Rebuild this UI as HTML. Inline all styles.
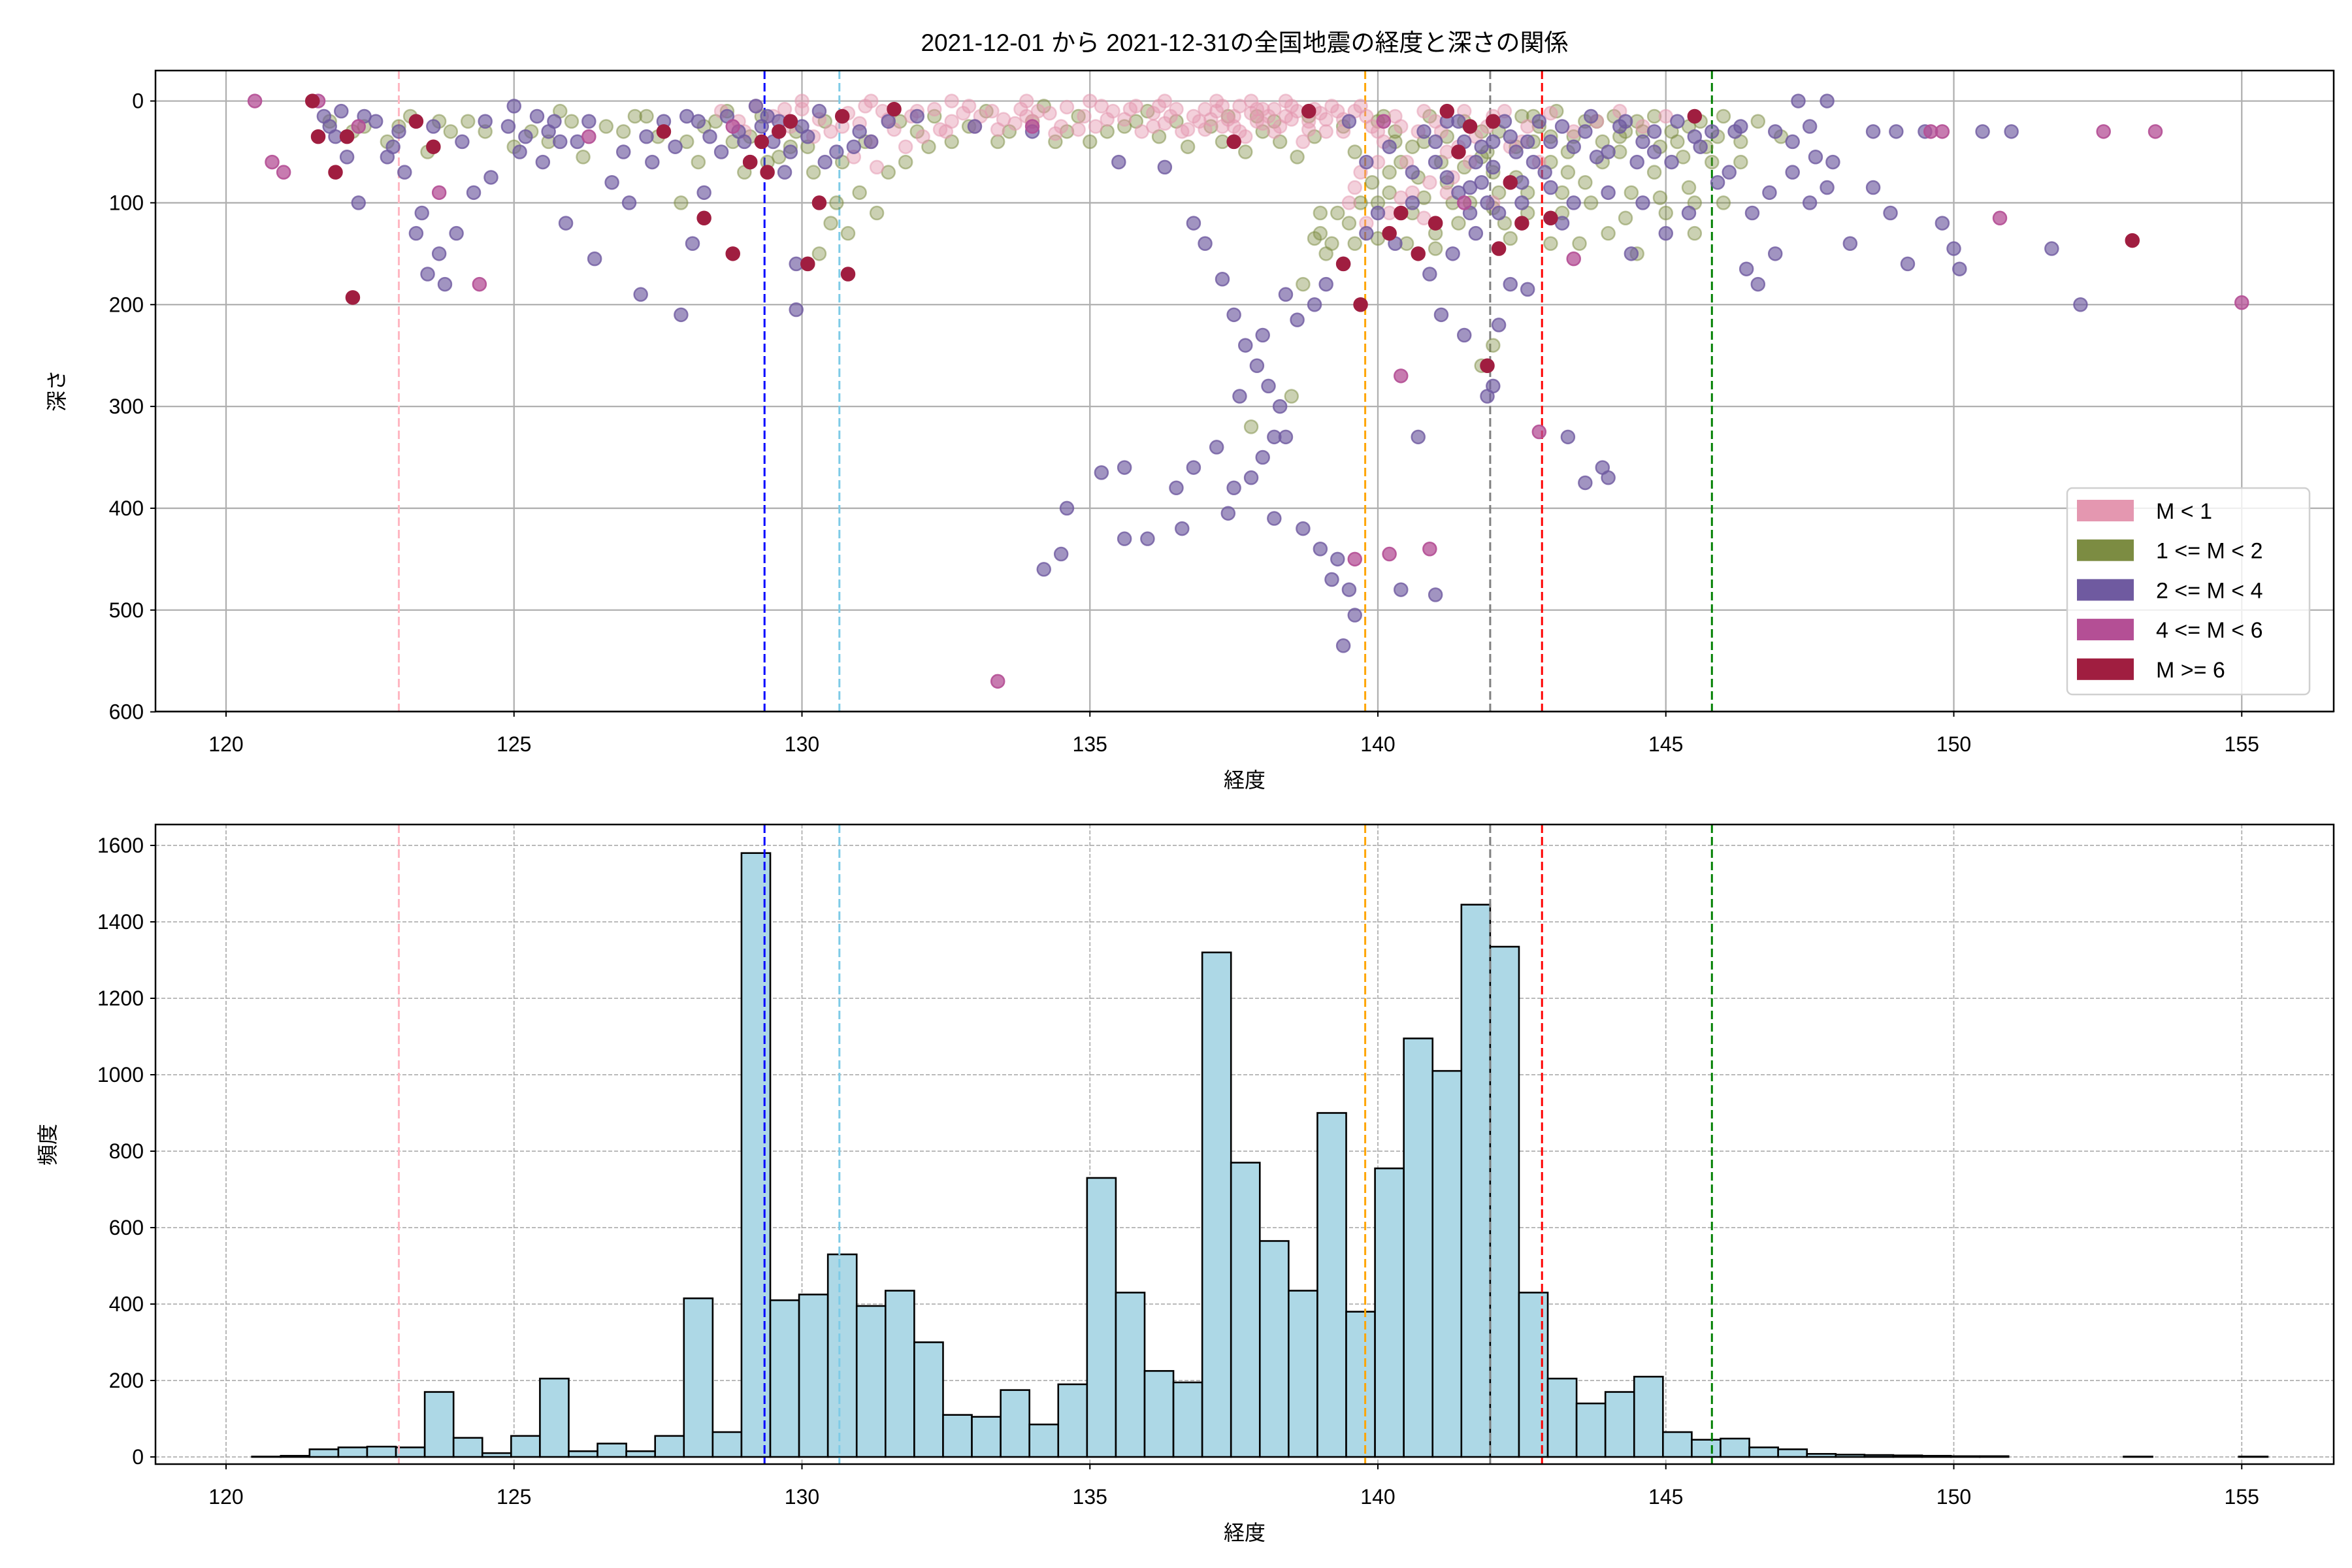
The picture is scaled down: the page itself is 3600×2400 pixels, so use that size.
<!DOCTYPE html>
<html><head><meta charset="utf-8">
<style>
html,body{margin:0;padding:0;background:#fff;}
svg{display:block;font-family:"Liberation Sans","Noto Sans CJK JP",sans-serif;}
</style></head>
<body>
<svg id="chart" width="3600" height="2400" viewBox="0 0 3600 2400" xmlns="http://www.w3.org/2000/svg">
<rect x="0" y="0" width="3600" height="2400" fill="#fff"/>
<text x="1905" y="78" font-size="37" text-anchor="middle">2021-12-01 から 2021-12-31の全国地震の経度と深さの関係</text>
<g id="topPanel"></g>
<g id="botPanel"></g>
</svg>
<script>
const pinkPts=[[128.6,10],[128.9,20],[129.2,5],[129.5,15],[129.8,25],[130.0,8],[130.3,18],[130.5,30],[130.8,12],[131.0,22],[131.2,40],[131.4,10],[131.6,28],[131.9,15],[132.1,35],[132.3,8],[132.6,20],[132.8,12],[133.0,25],[133.3,10],[133.5,18],[133.8,8],[134.0,20],[134.3,12],[134.6,6],[134.9,15],[135.1,25],[135.4,10],[135.6,18],[135.9,30],[136.1,12],[136.3,22],[136.5,8],[136.8,15],[137.0,28],[137.2,10],[137.4,18],[137.6,5],[137.8,12],[138.0,22],[138.2,8],[138.4,15],[138.6,10],[138.8,20],[139.0,12],[139.2,5],[139.4,18],[139.6,10],[139.9,25],[140.1,40],[140.3,15],[140.5,60],[140.7,30],[141.0,20],[141.2,50],[141.5,10],[141.7,35],[142.0,15],[142.3,45],[142.6,25],[143.0,12],[143.4,30],[143.8,20],[144.2,10],[144.6,25],[145.0,15],[137.3,5],[137.5,15],[137.9,8],[138.1,15],[138.3,25],[138.5,5],[136.9,20],[139.1,30],[139.3,10],[140.9,80],[139.7,70],[139.5,100],[140.2,110],[131.8,45],[130.9,55],[131.3,65],[138.7,40],[137.7,35],[135.2,5],[134.5,25],[133.1,15],[132.4,28],[140.6,90],[142.8,60],[141.3,75],[136.6,30],[137.1,18],[138.9,8],[139.8,15],[133.7,22],[135.7,8],[136.2,5]];
const pinkExtra=[[129.0,30],[129.7,8],[130.2,35],[130.7,25],[131.1,5],[131.5,18],[132.0,10],[132.5,30],[132.9,5],[133.4,28],[133.9,15],[134.4,32],[134.8,28],[135.3,18],[135.8,5],[136.4,15],[136.7,28],[137.0,8],[137.3,25],[137.6,30],[137.9,20],[138.2,30],[138.5,18],[138.8,28],[139.1,18],[139.4,30],[139.7,5],[140.0,30],[140.4,25],[140.8,10],[141.1,30],[141.4,45],[141.9,25],[142.2,10],[142.5,40],[139.6,85],[140.0,60],[140.4,95],[140.8,115],[141.2,90],[141.6,60],[142.0,100],[139.8,120],[137.2,0],[137.8,0],[138.4,0],[136.3,0],[135.0,0],[133.9,0],[132.6,0],[131.2,0],[130.0,0],[138.0,8],[137.5,25],[136.1,25],[134.1,10]];
const greenPts=[[122.4,25],[122.8,40],[123.2,15],[123.5,50],[123.9,30],[124.2,20],[125.0,45],[125.3,30],[125.8,10],[126.2,55],[126.6,25],[127.1,15],[127.5,35],[127.9,100],[128.2,60],[128.5,20],[128.8,40],[129.0,70],[129.3,15],[129.6,55],[129.9,30],[130.1,45],[130.4,20],[130.6,100],[130.8,130],[130.3,150],[130.1,160],[130.5,120],[131.0,90],[131.3,110],[131.5,70],[131.8,60],[132.0,30],[132.3,15],[132.6,40],[132.9,25],[133.2,10],[133.6,30],[134.0,20],[134.4,40],[134.8,15],[135.3,30],[135.8,20],[136.2,35],[136.7,45],[137.1,25],[137.4,15],[137.7,50],[138.0,30],[138.3,40],[138.6,55],[138.9,35],[139.0,130],[139.2,140],[139.5,120],[139.7,100],[139.9,80],[140.0,135],[140.2,90],[140.4,60],[140.6,110],[140.8,40],[141.0,130],[141.2,80],[141.4,50],[141.6,100],[141.8,30],[142.0,70],[142.2,120],[142.4,45],[142.6,90],[142.8,25],[143.0,60],[143.2,110],[143.4,35],[143.6,80],[143.8,20],[144.0,130],[144.2,50],[144.4,90],[144.6,30],[144.8,70],[145.0,110],[145.2,40],[145.4,85],[145.6,20],[145.8,60],[146.0,100],[146.3,40],[146.6,20],[147.0,35],[139.1,150],[138.7,180],[142.0,240],[141.8,260],[137.8,320],[140.5,140],[143.5,140],[144.5,150],[138.5,290],[145.5,130],[141.5,20],[142.5,15],[143.1,10],[144.1,15],[140.1,15],[136.0,10],[134.2,5],[141.1,60],[141.3,100],[141.9,50],[142.1,90],[142.7,40],[143.3,70],[143.9,40],[144.3,30],[144.9,45],[145.3,55],[145.9,35],[140.3,40],[139.6,50],[140.7,75]];
const greenExtra=[[140.0,20],[140.3,30],[140.6,45],[140.9,15],[141.2,35],[141.5,65],[141.8,55],[142.1,30],[142.4,75],[142.7,15],[143.0,35],[143.3,50],[143.6,20],[143.9,60],[144.2,35],[144.5,20],[144.8,15],[145.1,30],[145.4,25],[145.7,45],[146.0,15],[146.3,60],[140.2,70],[140.8,95],[141.4,120],[142.0,105],[142.6,110],[143.2,90],[143.7,100],[144.3,115],[144.9,95],[145.5,100],[139.3,110],[139.6,140],[140.0,100],[139.0,110],[138.9,135],[141.0,145],[142.3,135],[143.0,140],[121.8,20],[122.2,30],[123.0,25],[123.7,20],[124.5,30],[125.6,40],[126.0,20],[126.9,30],[127.3,15],[128.0,40],[128.3,25],[128.7,10],[129.1,35],[129.4,60],[129.8,45],[130.2,70],[130.7,60],[131.1,40],[131.7,20],[132.2,45],[133.4,40],[134.6,30],[135.0,40],[135.6,25],[136.5,20],[137.3,40],[137.9,15],[138.2,20],[138.8,15],[139.4,25]];
const purplePts=[[121.7,15],[121.9,35],[122.0,10],[122.1,55],[122.3,100],[122.6,20],[122.9,45],[123.1,70],[123.3,130],[123.4,110],[123.5,170],[123.7,150],[123.8,180],[124.0,130],[124.3,90],[124.6,75],[125.0,5],[125.2,35],[125.5,60],[125.7,20],[125.9,120],[126.1,40],[126.4,155],[126.7,80],[127.0,100],[127.2,190],[127.4,60],[127.6,20],[127.9,210],[128.1,140],[128.3,90],[128.6,50],[128.9,30],[129.1,60],[129.4,15],[129.5,40],[129.7,70],[129.9,160],[129.9,205],[130.3,10],[130.6,50],[131.0,30],[131.5,20],[132.0,15],[133.0,25],[134.0,30],[135.5,60],[136.3,65],[136.8,120],[137.0,140],[137.3,175],[137.5,210],[137.7,240],[137.9,260],[138.1,280],[138.3,300],[138.2,330],[138.0,350],[137.8,370],[137.5,380],[137.2,340],[136.8,360],[136.5,380],[136.0,430],[135.6,360],[135.2,365],[135.6,430],[134.6,400],[134.2,460],[134.5,445],[136.6,420],[137.4,405],[138.2,410],[138.7,420],[139.0,440],[139.3,450],[139.5,480],[139.6,505],[139.4,535],[139.2,470],[138.9,200],[138.4,190],[139.1,180],[139.4,160],[139.8,130],[140.0,110],[140.3,140],[140.6,100],[140.9,170],[141.1,210],[141.3,150],[141.5,230],[141.7,130],[142.0,280],[142.1,220],[142.3,180],[142.5,100],[142.7,60],[143.0,40],[143.2,120],[143.6,30],[144.0,370],[143.9,360],[144.0,90],[144.4,150],[144.8,50],[145.0,130],[145.4,110],[145.8,30],[146.1,70],[146.4,165],[146.6,180],[146.9,150],[147.2,40],[147.5,100],[147.9,60],[148.2,140],[148.6,85],[148.9,110],[149.2,160],[149.5,30],[149.8,120],[150.0,145],[150.1,165],[150.5,30],[151.0,30],[151.7,145],[152.2,200],[141.0,60],[141.5,40],[142.2,20],[141.8,80],[140.8,30],[144.2,25],[144.6,40],[145.2,20],[143.4,45],[142.9,70],[140.4,480],[140.7,330],[141.0,485],[143.3,330],[143.6,375],[141.9,290],[142.6,185],[148.6,30],[149.0,30],[147.3,0],[147.8,0],[141.4,90],[141.6,110],[141.7,60],[141.9,100],[124.5,20],[123.0,30],[126.9,50],[128.0,15],[129.2,5],[130.0,25],[131.2,40],[128.4,35],[125.4,15],[142.4,50],[142.0,40],[141.2,20],[143.8,55],[144.5,60],[145.6,45],[146.3,25],[146.8,90],[147.6,55],[138.6,215],[138.0,230],[137.6,290],[138.4,330]];
const purpleExtra=[[141.0,40],[141.2,75],[141.4,20],[141.6,85],[141.8,45],[142.0,65],[142.1,110],[142.3,35],[142.5,80],[142.6,40],[142.8,20],[143.0,85],[143.2,25],[143.4,100],[143.7,15],[144.0,50],[144.3,20],[144.6,100],[144.8,30],[145.1,60],[145.5,35],[145.9,80],[146.2,30],[146.5,110],[146.9,30],[147.2,70],[147.5,25],[147.8,85],[140.6,70],[140.2,45],[139.8,60],[139.5,20],[129.0,40],[129.3,25],[129.6,20],[129.8,50],[130.1,35],[130.4,60],[130.9,45],[128.7,15],[128.2,20],[127.8,45],[127.3,35],[126.3,20],[125.8,40],[124.9,25],[124.1,40],[123.6,25],[122.8,55],[122.4,15],[121.8,25],[125.1,50],[125.6,30]];
const magentaPts=[[120.5,0],[120.8,60],[121.0,70],[122.3,25],[123.7,90],[124.4,180],[126.3,35],[128.8,25],[133.4,570],[139.6,450],[140.2,445],[140.9,440],[140.4,270],[142.8,325],[143.4,155],[149.6,30],[149.8,30],[150.8,115],[152.6,30],[153.5,30],[155.0,198],[141.5,100],[140.1,20],[134.0,25],[121.6,0]];
const redPts=[[121.5,0],[121.6,35],[121.9,70],[122.1,35],[122.2,193],[123.3,20],[123.6,45],[127.6,30],[128.3,115],[128.8,150],[129.1,60],[129.4,70],[130.1,160],[130.3,100],[130.8,170],[131.6,8],[137.5,40],[138.8,10],[139.4,160],[139.7,200],[140.2,130],[141.0,120],[141.2,10],[141.9,260],[142.1,145],[142.5,120],[143.0,115],[145.5,15],[153.1,137],[129.6,30],[130.7,15],[141.6,25],[140.4,110],[142.3,80],[129.3,40],[129.8,20],[141.4,50],[142.0,20],[140.7,150]];
const histStart=120.45;
const histWidth=0.5;
const histCounts=[1,3,20,25,27,25,170,50,10,55,205,15,35,15,55,415,65,1580,410,425,530,395,435,300,110,105,175,85,190,730,430,225,195,1320,770,565,435,900,380,755,1095,1010,1445,1335,430,205,140,170,210,65,45,48,25,20,8,6,5,4,3,2,2,0,0,0,0,1,0,0,0,1];
const refLons=[123.0,129.35,130.65,139.78,141.95,142.85,145.8];
const refColors=["#ffb6c1","#0000ff","#7ecbe6","#ffa500","#808080","#ff0000","#008000"];
const xTicks=[120,125,130,135,140,145,150,155];
const depthTicks=[0,100,200,300,400,500,600];
const countTicks=[0,200,400,600,800,1000,1200,1400,1600];
const legendLabels=["M < 1","1 <= M < 2","2 <= M < 4","4 <= M < 6","M >= 6"];

const NS="http://www.w3.org/2000/svg";
const L=238,R=3572,T1=108,B1=1089,T2=1262,B2=2241;
function xs(v){return 346+(v-120)*88.15;}
function yd(v){return 154.6+v*1.5583;}
function yc(v){return 2230-v*0.585;}
function mk(tag,attrs,parent){const e=document.createElementNS(NS,tag);for(const k in attrs)e.setAttribute(k,attrs[k]);parent.appendChild(e);return e;}
const gTop=document.getElementById('topPanel'),gBot=document.getElementById('botPanel');

xTicks.forEach(t=>{const l=mk('line',{x1:xs(t),x2:xs(t),y1:T1,y2:B1,stroke:'#b0b0b0','stroke-width':2.3},gTop);

});
depthTicks.forEach(t=>{const l=mk('line',{x1:L,x2:R,y1:yd(t),y2:yd(t),stroke:'#b0b0b0','stroke-width':2.3},gTop);

});
function refLines(g,y1,y2){refLons.forEach((v,i)=>{const l=mk('line',{x1:xs(v),x2:xs(v),y1:y1,y2:y2,stroke:refColors[i],'stroke-width':3,'stroke-dasharray':'13 6'},g);

});}
refLines(gTop,T1,B1);
const series=[[greenPts.concat(greenExtra),'#7c8c42',0.4,0.5,'green-points'],[pinkPts.concat(pinkExtra),'#e497b0',0.45,0.5,'pink-points'],[purplePts.concat(purpleExtra),'#6f5aa0',0.65,0.8,'purple-points'],[magentaPts,'#b44f95',0.75,0.9,'magenta-points'],[redPts,'#a01e40',1,1,'red-points']];
series.forEach(s=>{const g=mk('g',{},gTop);


s[0].forEach(p=>{const c=mk('circle',{cx:xs(p[0]),cy:yd(p[1]),r:10,fill:s[1],'fill-opacity':s[2],stroke:s[1],'stroke-opacity':s[3],'stroke-width':2.5},g);

});});
const f1=mk('rect',{x:L,y:T1,width:R-L,height:B1-T1,fill:'none',stroke:'#000','stroke-width':2.5},gTop);


function ticksX(g,yb,y){xTicks.forEach(t=>{mk('line',{x1:xs(t),x2:xs(t),y1:yb,y2:yb+8,stroke:'#000','stroke-width':2},g);
const tx=mk('text',{x:xs(t),y:y,'font-size':32,'text-anchor':'middle'},g);tx.textContent=t;

});}
ticksX(gTop,B1,1150);
depthTicks.forEach(t=>{mk('line',{x1:L-8,x2:L,y1:yd(t),y2:yd(t),stroke:'#000','stroke-width':2},gTop);
const tx=mk('text',{x:L-18,y:yd(t)+11,'font-size':32,'text-anchor':'end'},gTop);tx.textContent=t;

});
let t1=mk('text',{x:1905,y:1205,'font-size':32,'text-anchor':'middle'},gTop);t1.textContent='経度';


let t2=mk('text',{x:98,y:598,'font-size':32,'text-anchor':'middle',transform:'rotate(-90 98 598)'},gTop);t2.textContent='深さ';


const lg=mk('g',{},gTop);


mk('rect',{x:3164,y:747,width:371,height:316,rx:8,fill:'#fff','fill-opacity':0.8,stroke:'#d0d0d0','stroke-width':2.5},lg);
const legCols=['#e497b0','#7c8c42','#6f5aa0','#b44f95','#a01e40'];
legendLabels.forEach((lab,i)=>{const y=765+i*60.7;
const r=mk('rect',{x:3179,y:y,width:87,height:33,fill:legCols[i]},lg);


const tx=mk('text',{x:3300,y:y+29,'font-size':34},lg);tx.textContent=lab;

});

xTicks.forEach(t=>{mk('line',{x1:xs(t),x2:xs(t),y1:T2,y2:B2,stroke:'#b0b0b0','stroke-width':1.8,'stroke-dasharray':'6 3'},gBot);});
countTicks.forEach(t=>{mk('line',{x1:L,x2:R,y1:yc(t),y2:yc(t),stroke:'#b0b0b0','stroke-width':1.8,'stroke-dasharray':'6 3'},gBot);});
histCounts.forEach((c,i)=>{const x0=xs(histStart+i*histWidth),x1=xs(histStart+(i+1)*histWidth);
const b=mk('rect',{x:x0,y:yc(c),width:x1-x0,height:yc(0)-yc(c),fill:'#add8e6',stroke:'#000','stroke-width':2.6},gBot);

});
refLines(gBot,T2,B2);
const f2=mk('rect',{x:L,y:T2,width:R-L,height:B2-T2,fill:'none',stroke:'#000','stroke-width':2.5},gBot);


ticksX(gBot,B2,2302);
countTicks.forEach(t=>{mk('line',{x1:L-8,x2:L,y1:yc(t),y2:yc(t),stroke:'#000','stroke-width':2},gBot);
const tx=mk('text',{x:L-18,y:yc(t)+11,'font-size':32,'text-anchor':'end'},gBot);tx.textContent=t;

});
let t3=mk('text',{x:1905,y:2357,'font-size':32,'text-anchor':'middle'},gBot);t3.textContent='経度';


let t4=mk('text',{x:84,y:1752,'font-size':32,'text-anchor':'middle',transform:'rotate(-90 84 1752)'},gBot);t4.textContent='頻度';


</script>
</body></html>
